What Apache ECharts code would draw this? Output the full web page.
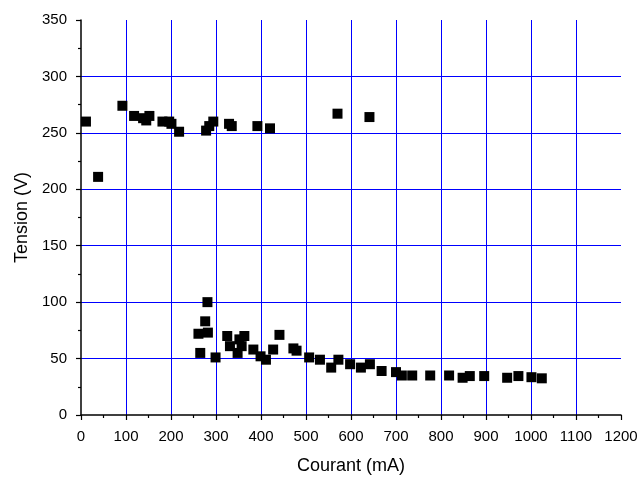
<!DOCTYPE html>
<html>
<head>
<meta charset="utf-8">
<script src="https://cdn.jsdelivr.net/npm/echarts@6/dist/echarts.min.js"></script>
<style>html,body{margin:0;padding:0;background:#fff;}#c{width:637px;height:477px;}</style>
</head>
<body>
<div id="c"></div>
<script>
var currentUpper = [11, 38, 92, 118, 138, 145, 152, 181, 196, 201, 218, 278, 285, 294, 329, 335, 392, 420, 570, 641];
var tensionUpper = [260, 211, 274, 265, 263, 261, 265, 260, 260, 258, 251, 252, 256, 260, 258, 256, 256, 254, 267, 264];
var currentLower = [261, 265, 276, 281, 282, 299, 325, 331, 348, 352, 357, 363, 383, 399, 411, 427, 441, 472, 479, 507, 531, 556, 572, 598, 622, 642, 668, 700, 713, 736, 776, 818, 848, 864, 896, 947, 972, 1001, 1024];
var tensionLower = [72, 55, 83, 100, 73, 51, 70, 61, 55, 67, 61, 70, 58, 52, 49, 58, 71, 59, 57, 51, 49, 42, 49, 45, 42, 45, 39, 38, 35, 35, 35, 35, 33, 34.5, 34.5, 33, 34.5, 33.5, 32.5];
var xTicks = { min: 0, max: 1200, interval: 100 };
var yTicks = { min: 0, max: 350, interval: 50 };

var pts = [];
currentUpper.forEach(function (x, i) { pts.push([x, tensionUpper[i]]); });
currentLower.forEach(function (x, i) { pts.push([x, tensionLower[i]]); });

var font = '"Liberation Sans", Arial, sans-serif';
var plain = function (v) { return String(v); };
var chart = echarts.init(document.getElementById('c'), null, { renderer: 'canvas' });
chart.setOption({
  animation: false,
  backgroundColor: '#ffffff',
  grid: { left: 81, right: 16, top: 20, bottom: 62, containLabel: false, outerBoundsMode: 'none' },
  xAxis: {
    type: 'value', min: xTicks.min, max: xTicks.max, interval: xTicks.interval,
    name: 'Courant (mA)', nameLocation: 'middle', nameGap: 42,
    nameTextStyle: { fontFamily: font, fontSize: 18, color: '#000' },
    axisLine: { show: true, onZero: false, lineStyle: { color: '#000', width: 1.5 } },
    axisTick: { show: true, inside: false, length: 5, lineStyle: { color: '#000', width: 1.2 } },
    minorTick: { show: true, splitNumber: 2, length: 3, lineStyle: { color: '#000', width: 1.2 } },
    axisLabel: { fontFamily: font, fontSize: 15, color: '#000', margin: 14, formatter: plain },
    splitLine: { show: true, showMinLine: false, showMaxLine: false, lineStyle: { color: '#0000ff', width: 1 } }
  },
  yAxis: {
    type: 'value', min: yTicks.min, max: yTicks.max, interval: yTicks.interval,
    name: 'Tension (V)', nameLocation: 'middle', nameGap: 50,
    nameTextStyle: { fontFamily: font, fontSize: 18, color: '#000' },
    axisLine: { show: true, onZero: false, lineStyle: { color: '#000', width: 1.5 } },
    axisTick: { show: true, inside: false, length: 5, lineStyle: { color: '#000', width: 1.2 } },
    minorTick: { show: true, splitNumber: 2, length: 3, lineStyle: { color: '#000', width: 1.2 } },
    axisLabel: { fontFamily: font, fontSize: 15, color: '#000', margin: 14, formatter: plain },
    splitLine: { show: true, showMinLine: false, showMaxLine: false, lineStyle: { color: '#0000ff', width: 1 } }
  },
  series: [{
    type: 'scatter',
    symbol: 'rect',
    symbolSize: 10,
    itemStyle: { color: '#000', opacity: 1 },
    data: pts
  }]
});
</script>
</body>
</html>
